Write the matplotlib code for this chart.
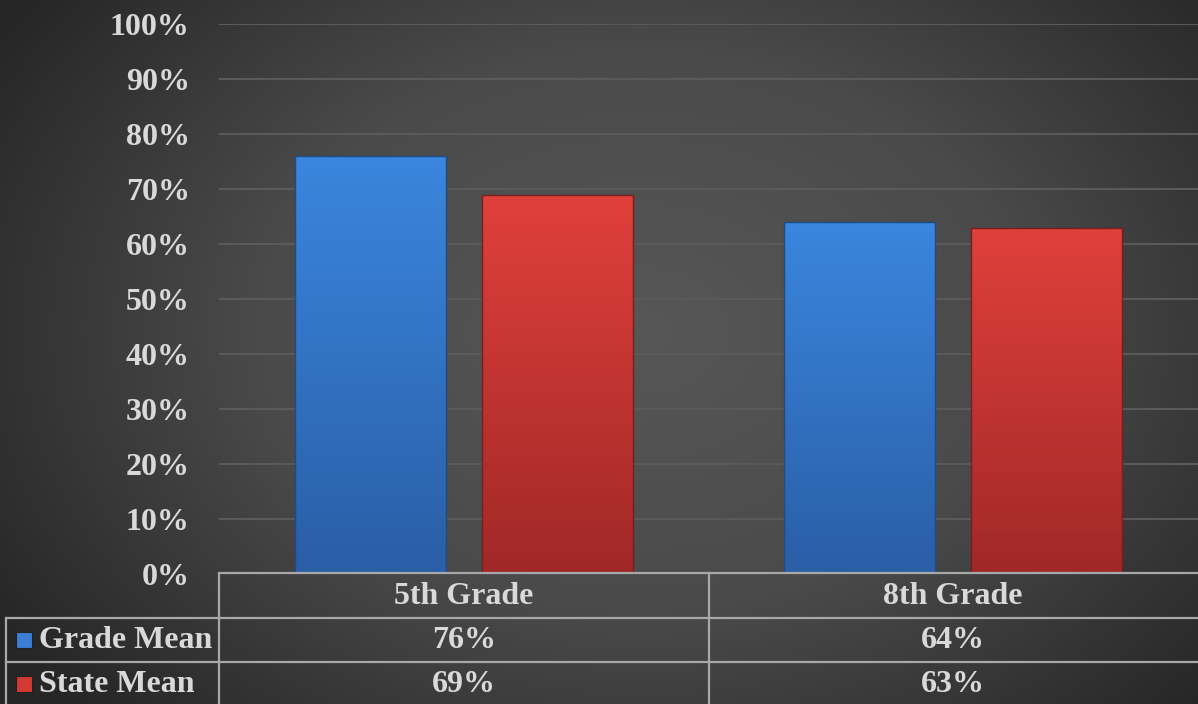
import numpy as np
import matplotlib
matplotlib.use("Agg")
import matplotlib.pyplot as plt
from matplotlib.colors import LinearSegmentedColormap

categories = ["5th Grade", "8th Grade"]
series_names = ["Grade Mean", "State Mean"]
grade_mean = [0.76, 0.64]
state_mean = [0.69, 0.63]
ytick_vals = [0, 0.1, 0.2, 0.3, 0.4, 0.5, 0.6, 0.7, 0.8, 0.9, 1.0]
ytick_labels = ["0%", "10%", "20%", "30%", "40%", "50%", "60%", "70%", "80%", "90%", "100%"]

W, H = 1198, 704
fig = plt.figure(figsize=(W / 100, H / 100), dpi=100)
FONT = "Liberation Serif"
TXT = "#d9d9d9"
FS = 23

# background radial gradient
bg = fig.add_axes([0, 0, 1, 1], zorder=0)
yy, xx = np.mgrid[0:H, 0:W]
cx, cy = 640, 330
r = np.sqrt(((xx - cx) / 760.0) ** 2 + ((yy - cy) / 560.0) ** 2)
r = np.clip(r, 0, 1)
bgcmap = LinearSegmentedColormap.from_list("bg", ["#575757", "#4a4a4a", "#262626"])
bg.imshow(r, cmap=bgcmap, extent=[0, W, H, 0], aspect="auto", vmin=0, vmax=1)
bg.set_xlim(0, W)
bg.set_ylim(H, 0)
bg.axis("off")

# data axes
left_px, right_px, top_px, bot_px = 219, 1198, 24, 574
ax = fig.add_axes([left_px / W, (H - bot_px) / H, (right_px - left_px) / W, (bot_px - top_px) / H], zorder=2)
ax.patch.set_alpha(0)
ax.set_ylim(0, 1.0)
ax.set_xlim(-0.5, 1.5)
ax.set_yticks(ytick_vals)
ax.set_yticklabels(ytick_labels, fontfamily=FONT, fontweight="bold", fontsize=FS, color=TXT)
ax.tick_params(axis="y", length=0, pad=21)
ax.set_xticks([])
for s in ax.spines.values():
    s.set_visible(False)
ax.yaxis.grid(True, color="#5a5a5a", linewidth=1.5)
ax.set_axisbelow(True)

x = np.arange(len(categories))
bw = 0.308
off = 0.1912
blue_cmap = LinearSegmentedColormap.from_list("b", ["#2a5ea6", "#3a86de"])
red_cmap = LinearSegmentedColormap.from_list("r", ["#a12828", "#e0403b"])
for vals, dx, cm, ec in [(grade_mean, -off, blue_cmap, "#1f4a85"), (state_mean, off, red_cmap, "#7a1d1d")]:
    bars = ax.bar(x + dx, vals, width=bw, color="none", edgecolor=ec, linewidth=1.0, zorder=3)
    for b in bars:
        x0, w, h = b.get_x(), b.get_width(), b.get_height()
        grad = np.linspace(0, 1, 100).reshape(-1, 1)
        im = ax.imshow(grad, cmap=cm, extent=[x0, x0 + w, 0, h], origin="lower",
                       aspect="auto", zorder=2.5)
        im.set_clip_path(b)
ax.set_xlim(-0.5, 1.5)
ax.set_ylim(0, 1.0)

# table overlay in pixel coordinates
ov = fig.add_axes([0, 0, 1, 1], zorder=3)
ov.patch.set_alpha(0)
ov.set_xlim(0, W)
ov.set_ylim(H, 0)
ov.axis("off")
LC = "#a8a8a8"
LW = 1.6
ov.plot([left_px, W], [573, 573], color=LC, lw=LW)
ov.plot([6, W], [618, 618], color=LC, lw=LW)
ov.plot([6, W], [662, 662], color=LC, lw=LW)
ov.plot([left_px, left_px], [573, H], color=LC, lw=LW)
ov.plot([709, 709], [573, H], color=LC, lw=LW)
ov.plot([6, 6], [618, H], color=LC, lw=LW)

col_centers = [464, 953]
row_centers = [597, 641, 685]
for c, cat in zip(col_centers, categories):
    ov.text(c, row_centers[0], cat, ha="center", va="center", fontfamily=FONT,
            fontweight="bold", fontsize=FS, color=TXT)
for i, (name, vals, col) in enumerate([(series_names[0], grade_mean, "#3a7fd5"),
                                        (series_names[1], state_mean, "#d33a36")]):
    yc = row_centers[i + 1]
    ov.add_patch(plt.Rectangle((16, yc - 9), 16, 16, facecolor=col, edgecolor="#222222", lw=0.8))
    ov.text(39, yc, name, ha="left", va="center", fontfamily=FONT, fontweight="bold",
            fontsize=FS, color=TXT)
    for c, v in zip(col_centers, vals):
        ov.text(c, yc, f"{round(v * 100)}%", ha="center", va="center", fontfamily=FONT,
                fontweight="bold", fontsize=FS, color=TXT)

fig.savefig("out.png", dpi=100)
